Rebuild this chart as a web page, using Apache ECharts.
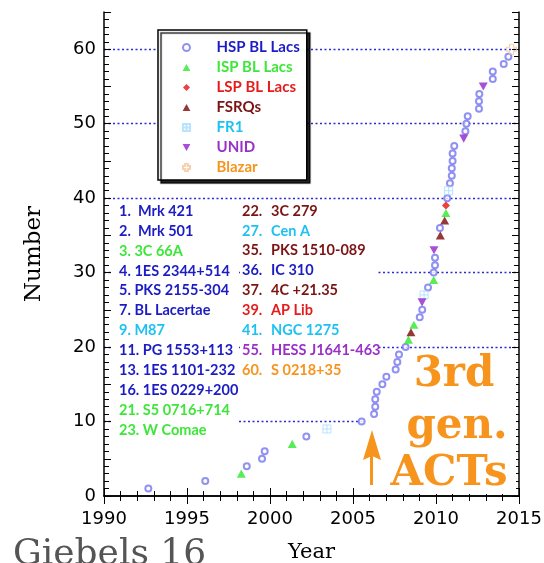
<!DOCTYPE html>
<html>
<head>
<meta charset="utf-8">
<script src="https://cdn.jsdelivr.net/npm/echarts@6/dist/echarts.min.js"></script>
<style>
  html, body { margin: 0; padding: 0; background: #fff; }
  #chart { width: 544px; height: 563px; }
</style>
</head>
<body>
<div id="chart"></div>
<script>
// Discovery year and running source count, per source class
const hspYears  = [1992.67, 1996.10, 1998.60, 1999.52, 1999.68, 2002.19, 2005.52, 2006.27, 2006.34, 2006.34,
                   2006.43, 2006.77, 2007.01, 2007.57, 2007.67, 2007.77, 2008.17, 2009.02, 2009.17, 2009.52,
                   2009.86, 2009.94, 2009.94, 2010.24, 2010.68, 2010.84, 2010.95, 2010.95, 2011.00, 2011.00,
                   2011.10, 2011.77, 2011.83, 2011.91, 2012.59, 2012.59, 2012.61, 2013.42, 2013.42, 2014.08,
                   2014.36];
const hspCounts = [1, 2, 4, 5, 6, 8, 10, 11, 12, 13,
                   14, 15, 16, 17, 18, 19, 20, 24, 25, 28,
                   30, 31, 32, 36, 40, 42, 43, 44, 45, 46,
                   47, 49, 50, 51, 52, 53, 54, 56, 57, 58,
                   59];
const ispYears  = [1998.27, 2001.34, 2008.34, 2008.67, 2009.86, 2010.60];
const ispCounts = [3, 7, 21, 23, 29, 38];
const lspYears  = [2010.60];
const lspCounts = [39];
const fsrqYears  = [2008.49, 2010.26, 2010.52];
const fsrqCounts = [22, 35, 37];
const fr1Years  = [2003.43, 2009.28, 2010.76];
const fr1Counts = [9, 27, 41];
const unidYears  = [2009.16, 2009.88, 2011.67, 2012.85];
const unidCounts = [26, 33, 48, 55];
const blazarYears  = [2014.55];
const blazarCounts = [60];

// Dotted guide levels
const guideLevels = [10, 20, 30, 40, 50, 60];

const classNames = ['HSP BL Lacs', 'ISP BL Lacs', 'LSP BL Lacs', 'FSRQs', 'FR1', 'UNID', 'Blazar'];

// Named sources, two columns: [label, class]
const listLeft = [
  ['1.  Mrk 421', 'HSP BL Lacs'],
  ['2.  Mrk 501', 'HSP BL Lacs'],
  ['3. 3C 66A', 'ISP BL Lacs'],
  ['4. 1ES 2344+514', 'HSP BL Lacs'],
  ['5. PKS 2155-304', 'HSP BL Lacs'],
  ['7. BL Lacertae', 'HSP BL Lacs'],
  ['9. M87', 'FR1'],
  ['11. PG 1553+113', 'HSP BL Lacs'],
  ['13. 1ES 1101-232', 'HSP BL Lacs'],
  ['16. 1ES 0229+200', 'HSP BL Lacs'],
  ['21. S5 0716+714', 'ISP BL Lacs'],
  ['23. W Comae', 'ISP BL Lacs']
];
const listRightNums  = ['22.', '27.', '35.', '36.', '37.', '39.', '41.', '55.', '60.'];
const listRightNames = ['3C 279', 'Cen A', 'PKS 1510-089', 'IC 310', '4C +21.35', 'AP Lib', 'NGC 1275', 'HESS J1641-463', 'S 0218+35'];
const listRightClass = ['FSRQs', 'FR1', 'FSRQs', 'HSP BL Lacs', 'FSRQs', 'LSP BL Lacs', 'FR1', 'UNID', 'Blazar'];

// Colours
const textColor = {
  'HSP BL Lacs': '#1c1cc4',
  'ISP BL Lacs': '#3ee63a',
  'LSP BL Lacs': '#e61c1c',
  'FSRQs': '#7c1414',
  'FR1': '#1ec2f2',
  'UNID': '#9a30c8',
  'Blazar': '#f7941d'
};
const orange = '#f7941d';
const listFont = 'bold 14.5px Lato';

// Marker outlines
const triUp   = 'path://M5,0L10,9L0,9Z';
const triDown = 'path://M0,0L10,0L5,9Z';
const diamond = 'path://M5,0L10,5L5,10L0,5Z';
const boxCross = 'path://M0,0H10V10H0Z M5,0V10 M0,5H10';
const plusOutline = 'path://M3,0H7V3H10V7H7V10H3V7H0V3H3Z';

const pairs = (xs, ys) => xs.map((x, i) => [x, ys[i]]);

const chart = echarts.init(document.getElementById('chart'), null, { renderer: 'canvas' });

// White panels that break the dotted guides behind the annotations
const graphics = [];
graphics.push({ type: 'rect', z: 1, silent: true, shape: { x: 112, y: 201, width: 125, height: 240 }, style: { fill: '#fff' } });
graphics.push({ type: 'rect', z: 1, silent: true, shape: { x: 240, y: 201, width: 138, height: 179 }, style: { fill: '#fff' } });
graphics.push({ type: 'rect', z: 1, silent: true, shape: { x: 364, y: 352, width: 152, height: 142 }, style: { fill: '#fff' } });

listLeft.forEach((row, i) => {
  graphics.push({
    type: 'text', z: 2, silent: true,
    style: { text: row[0], x: 119, y: 211 + i * 19.95, fill: textColor[row[1]], font: listFont, verticalAlign: 'middle' }
  });
});
listRightNums.forEach((num, i) => {
  const y = 211 + i * 19.9;
  const col = textColor[listRightClass[i]];
  graphics.push({ type: 'text', z: 2, silent: true, style: { text: num, x: 242, y, fill: col, font: listFont, verticalAlign: 'middle' } });
  graphics.push({ type: 'text', z: 2, silent: true, style: { text: listRightNames[i], x: 271, y, fill: col, font: listFont, verticalAlign: 'middle' } });
});

// "3rd gen. ACTs" call-out with arrow
const actFont = 'bold 42px "DejaVu Serif"';
graphics.push({ type: 'text', z: 2, silent: true, style: { text: '3rd', x: 454, y: 375, fill: orange, font: actFont, align: 'center', verticalAlign: 'middle' } });
graphics.push({ type: 'text', z: 2, silent: true, style: { text: 'gen.', x: 457, y: 427, fill: orange, font: actFont, align: 'center', verticalAlign: 'middle' } });
graphics.push({ type: 'text', z: 2, silent: true, style: { text: 'ACTs', x: 449, y: 474, fill: orange, font: actFont, align: 'center', verticalAlign: 'middle' } });
graphics.push({ type: 'polygon', z: 2, silent: true, shape: { points: [[363, 460], [372, 430], [381, 460], [372, 456]] }, style: { fill: orange } });
graphics.push({ type: 'rect', z: 2, silent: true, shape: { x: 370, y: 456, width: 3, height: 29 }, style: { fill: orange } });

// Credit line
graphics.push({ type: 'text', z: 2, silent: true, style: { text: 'Giebels 16', x: 13, y: 555, fill: '#555', font: '36px "DejaVu Serif"', verticalAlign: 'middle' } });

const axisBlack = { lineStyle: { color: '#000', width: 1.5 } };
const tickStyle = { lineStyle: { color: '#000', width: 1 } };

function scatter(name, data, symbol, size, itemStyle) {
  return {
    name, type: 'scatter', data, symbol, symbolSize: size, z: 5, symbolKeepAspect: true,
    itemStyle, emphasis: { disabled: true }
  };
}

const option = {
  animation: false,
  backgroundColor: '#fff',
  grid: { left: 104, right: 25, top: 12, bottom: 67, outerBoundsMode: 'none', containLabel: false },
  xAxis: [
    {
      type: 'value', min: 1990, max: 2015, interval: 5, position: 'bottom',
      axisLine: axisBlack,
      axisTick: Object.assign({ inside: true, length: 8 }, tickStyle),
      minorTick: Object.assign({ show: true, splitNumber: 5, length: 5 }, tickStyle),
      axisLabel: { color: '#000', fontSize: 18, fontFamily: 'DejaVu Sans', margin: 14, formatter: v => String(v) },
      splitLine: { show: false },
      name: 'Year', nameLocation: 'middle', nameGap: 46,
      nameTextStyle: { fontFamily: 'DejaVu Serif', fontSize: 21, color: '#000' }
    },
    {
      type: 'value', min: 1990, max: 2015, interval: 5, position: 'top',
      axisLine: axisBlack,
      axisTick: Object.assign({ inside: true, length: 8 }, tickStyle),
      minorTick: Object.assign({ show: true, splitNumber: 5, length: 5 }, tickStyle),
      axisLabel: { show: false },
      splitLine: { show: false }
    }
  ],
  yAxis: [
    {
      type: 'value', min: 0, max: 65, interval: 5, position: 'left',
      axisLine: axisBlack,
      axisTick: Object.assign({ inside: true, length: 7 }, tickStyle),
      minorTick: Object.assign({ show: true, splitNumber: 5, length: 5 }, tickStyle),
      axisLabel: {
        color: '#000', fontSize: 18, fontFamily: 'DejaVu Sans', margin: 8,
        formatter: v => (v % 10 === 0 ? String(v) : '')
      },
      splitLine: { show: false },
      name: 'Number', nameLocation: 'middle', nameGap: 58, nameRotate: 90,
      nameTextStyle: { fontFamily: 'DejaVu Serif', fontSize: 23, color: '#000' }
    },
    {
      type: 'value', min: 0, max: 65, interval: 5, position: 'right',
      axisLine: axisBlack,
      axisTick: Object.assign({ inside: true, length: 7 }, tickStyle),
      minorTick: Object.assign({ show: true, splitNumber: 5, length: 5 }, tickStyle),
      axisLabel: { show: false },
      splitLine: { show: false }
    }
  ],
  legend: {
    orient: 'vertical', left: 158, top: 30,
    padding: [10, 7, 5, 24], itemGap: 5, itemWidth: 50, itemHeight: 7,
    symbolKeepAspect: true,
    backgroundColor: '#fff', borderColor: '#000', borderWidth: 1.5,
    shadowColor: 'rgba(0,0,0,0.85)', shadowBlur: 1, shadowOffsetX: 3, shadowOffsetY: 3,
    selectedMode: false,
    textStyle: { fontFamily: 'Lato', fontWeight: 'bold', fontSize: 15 },
    data: classNames.map(n => ({ name: n, textStyle: { color: textColor[n] } }))
  },
  graphic: { elements: graphics },
  series: [
    {
      // dotted guide lines, kept beneath the white annotation panels
      name: 'guides', type: 'scatter', data: [], z: 0, silent: true,
      markLine: {
        silent: true, symbol: 'none', animation: false, z: 0,
        label: { show: false },
        lineStyle: { color: '#2b2bd0', width: 1.3, type: [2, 2.5] },
        data: guideLevels.map(v => ({ yAxis: v }))
      }
    },
    scatter('HSP BL Lacs', pairs(hspYears, hspCounts), 'emptyCircle', 6, { color: '#7676f0', borderWidth: 1 }),
    scatter('ISP BL Lacs', pairs(ispYears, ispCounts), triUp, 9, { color: '#2ee82e' }),
    scatter('LSP BL Lacs', pairs(lspYears, lspCounts), diamond, 8, { color: '#e81010' }),
    scatter('FSRQs', pairs(fsrqYears, fsrqCounts), triUp, 9, { color: '#7a0606' }),
    scatter('FR1', pairs(fr1Years, fr1Counts), boxCross, 8,
      { color: 'rgba(0,0,0,0)', borderColor: '#a8dcff', borderWidth: 1 }),
    scatter('UNID', pairs(unidYears, unidCounts), triDown, 9, { color: '#9422cc' }),
    scatter('Blazar', pairs(blazarYears, blazarCounts), plusOutline, 10,
      { color: 'rgba(0,0,0,0)', borderColor: '#f7c49a', borderWidth: 1.2 })
  ]
};

chart.setOption(option);
</script>
</body>
</html>
